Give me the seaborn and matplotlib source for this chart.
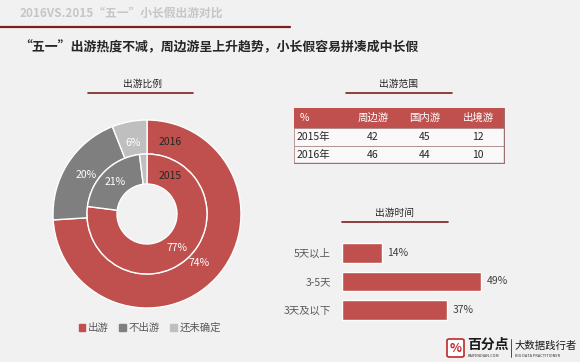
import numpy as np
import pandas as pd
import matplotlib
matplotlib.use("Agg")
import matplotlib.pyplot as plt
import matplotlib.patches as mpatches
import seaborn as sns

sns.set_theme(style="white")
plt.rcParams['font.family'] = ['Noto Sans CJK SC', 'DejaVu Sans']

# data
pie_labels = ["出游", "不出游", "还未确定"]
share_2016 = [74, 20, 6]
share_2015 = [77, 21, 2]

scope_cols = ["周边游", "国内游", "出境游"]
scope_rows = ["2015年", "2016年"]
scope_2015 = [42, 45, 12]
scope_2016 = [46, 44, 10]

days_cats = ["5天以上", "3-5天", "3天及以下"]
days_vals = [14, 49, 37]

RED = "#c0504d"
DGREY = "#7f7f7f"
LGREY = "#bfbfbf"
MAROON = "#7b2020"
BG = "#f1f1f1"

W, H = 580, 362
fig = plt.figure(figsize=(W / 100, H / 100), dpi=100, facecolor=BG)


def fx(x):
    return x / W


def fy(y):
    return 1 - y / H


def px_axes(x0, y0, x1, y1):
    return fig.add_axes([fx(x0), fy(y1), fx(x1 - x0), (y1 - y0) / H])


# header
fig.text(fx(20), fy(13), "2016VS.2015“五一”小长假出游对比", fontsize=8.5,
         fontweight="bold", color="#c6c6c6", va="center")
fig.add_artist(plt.Line2D([0, fx(290)], [fy(27), fy(27)], color=MAROON, lw=1.6))
fig.text(fx(19), fy(47), "“五一”出游热度不减，周边游呈上升趋势，小长假容易拼凑成中长假",
         fontsize=9.3, fontweight="bold", color="#262626", va="center")


def section(title, cx, y, x0, x1):
    fig.text(fx(cx), fy(y), title, fontsize=7, color="#262626", ha="center", va="center")
    fig.add_artist(plt.Line2D([fx(x0), fx(x1)], [fy(y + 9), fy(y + 9)], color=MAROON, lw=1.2))


section("出游比例", 143, 84, 88, 193)
section("出游范围", 398, 84, 346, 452)
section("出游时间", 394, 213, 342, 448)

# donut
ax = px_axes(47, 114, 247, 314)
colors = [RED, DGREY, LGREY]
wp = dict(edgecolor="white", linewidth=1)
ax.pie(share_2016, radius=0.94, colors=colors, startangle=90, counterclock=False,
       wedgeprops=dict(width=0.34, **wp))
ax.pie(share_2015, radius=0.60, colors=colors, startangle=90, counterclock=False,
       wedgeprops=dict(width=0.30, **wp))
ax.set_xlim(-1, 1)
ax.set_ylim(-1, 1)
ax.set_aspect("equal")
ax.axis("off")


def ring_labels(vals, r, min_show=5):
    start = 90.0
    for v in vals:
        span = v / sum(vals) * 360
        mid = np.deg2rad(start - span / 2)
        start -= span
        if v < min_show:
            continue
        ax.text(r * np.cos(mid), r * np.sin(mid), f"{v}%", color="white",
                fontsize=7.5, ha="center", va="center")


ring_labels(share_2016, 0.72)
ring_labels(share_2015, 0.45)
ax.text(0.23, 0.72, "2016", color="#262626", fontsize=7.5, ha="center", va="center")
ax.text(0.23, 0.38, "2015", color="#262626", fontsize=7.5, ha="center", va="center")

handles = [mpatches.Patch(color=c) for c in colors]
fig.legend(handles, pie_labels, loc="center", bbox_to_anchor=(fx(150), fy(328)),
           ncol=3, frameon=False, fontsize=7.5, handlelength=0.6, handleheight=0.6,
           handletextpad=0.3, columnspacing=1.0, labelcolor="#595959")

# table
tx = px_axes(294, 108, 505, 164)
tx.set_xlim(294, 505)
tx.set_ylim(164, 108)
tx.axis("off")
row_y = [108, 128, 146, 163]
col_cx = [373, 425, 478]
tx.add_patch(mpatches.Rectangle((294, 108), 210, 20, color=RED))
tx.text(300, 118, "%", color="white", fontsize=7.5, va="center")
for c, name in zip(col_cx, scope_cols):
    tx.text(c, 118, name, color="white", fontsize=7.5, va="center", ha="center")
for i, (rname, vals) in enumerate(zip(scope_rows, [scope_2015, scope_2016])):
    yc = (row_y[i + 1] + row_y[i + 2]) / 2
    tx.add_patch(mpatches.Rectangle((294, row_y[i + 1]), 210, row_y[i + 2] - row_y[i + 1],
                                    facecolor="#f9f9f9", edgecolor="#b08888", lw=0.6))
    tx.text(297, yc, rname, color="#262626", fontsize=7.5, va="center")
    for c, v in zip(col_cx, vals):
        tx.text(c, yc, str(v), color="#262626", fontsize=7.5, va="center", ha="center")
tx.plot([504, 504], [108, 163], color="#9a7070", lw=1.0)
tx.plot([294, 504], [163, 163], color="#9a7070", lw=1.0)

# bar chart
bx = px_axes(342, 239, 522, 324)
df = pd.DataFrame({"cat": days_cats, "val": days_vals})
sns.barplot(data=df, x="val", y="cat", orient="h", color=RED, saturation=1,
            width=0.7, ax=bx)
bx.set_xlim(0, 180 / 2.84)
bx.set_facecolor("none")
sns.despine(ax=bx, left=True, bottom=True)
bx.set_xticks([])
bx.set_xlabel("")
bx.set_ylabel("")
bx.tick_params(axis="y", length=0, pad=8, labelsize=7.5, labelcolor="#595959")
for i, v in enumerate(days_vals):
    bx.text(v + 2, i, f"{v}%", va="center", fontsize=7.5, color="#404040")

# logo
fig.add_artist(mpatches.FancyBboxPatch((fx(447), fy(357)), fx(17), 18 / H,
                                       boxstyle="round,pad=0,rounding_size=0.004",
                                       facecolor="white", edgecolor="#c0272d", lw=1.2))
fig.text(fx(455.5), fy(348), "%", color="#c0272d", fontsize=9, ha="center", va="center",
         fontweight="bold")
fig.text(fx(467), fy(345), "百分点", color="#1a1a1a", fontsize=10, fontweight="bold", va="center")
fig.text(fx(468), fy(356), "BAIFENDIAN.COM", color="#333333", fontsize=2.8, va="center")
fig.add_artist(plt.Line2D([fx(511), fx(511)], [fy(339), fy(357)], color="#333333", lw=0.6))
fig.text(fx(515), fy(346), "大数据践行者", color="#1a1a1a", fontsize=7.5, va="center")
fig.text(fx(515), fy(356), "BIG DATA PRACTITIONER", color="#333333", fontsize=2.8, va="center")

fig.savefig("out.png", dpi=100, facecolor=BG)
